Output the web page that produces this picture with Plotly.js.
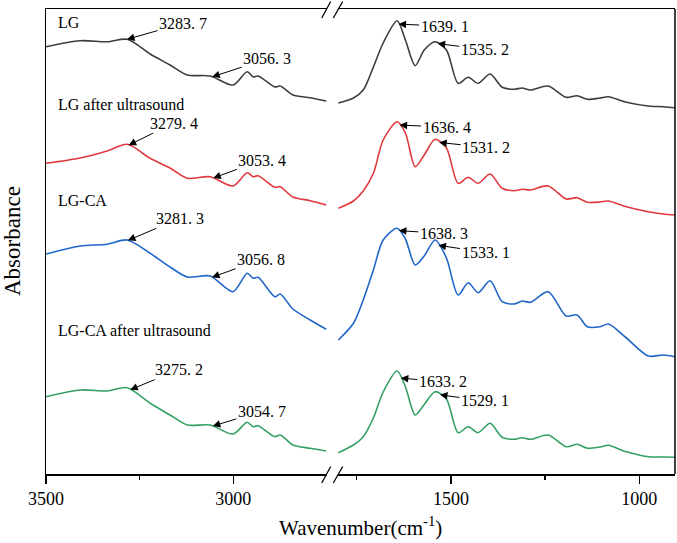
<!DOCTYPE html>
<html>
<head>
<meta charset="utf-8">
<script src="https://cdn.plot.ly/plotly-3.0.1.min.js"></script>
<style>html,body{margin:0;padding:0;background:#fff;}#chart{width:677px;height:543px;}</style>
</head>
<body>
<div id="chart"></div>
<script>
// Wavenumber grids (cm-1) for the two panels of the broken axis
const wnLeft = [3500, 3409, 3337, 3283, 3222, 3169, 3123, 3062, 3001, 2963, 2947, 2934, 2889, 2875, 2841, 2795, 2752];
const wnRight = [1799, 1759, 1733, 1706, 1680, 1643, 1621, 1595, 1571, 1542, 1512, 1481, 1454, 1428, 1396, 1364, 1332, 1311, 1289, 1242, 1194, 1165, 1138, 1104, 1082, 1037, 976, 936, 905];

// Series names
const seriesNames = ["LG", "LG after ultrasound", "LG-CA", "LG-CA after ultrasound"];

// Absorbance (offset, arbitrary units)
const lgLeft = [4.363, 4.423, 4.413, 4.437, 4.29, 4.18, 4.08, 4.07, 3.98, 4.113, 4.06, 4.07, 3.96, 3.97, 3.88, 3.853, 3.82];
const lgRight = [3.80, 3.85, 3.93, 4.16, 4.40, 4.623, 4.43, 4.173, 4.33, 4.413, 4.33, 3.997, 4.057, 3.997, 4.09, 3.957, 3.937, 3.95, 3.93, 3.97, 3.857, 3.873, 3.837, 3.85, 3.863, 3.81, 3.77, 3.763, 3.753];
const lgUsLeft = [3.197, 3.25, 3.32, 3.387, 3.247, 3.15, 3.047, 3.063, 2.97, 3.103, 3.063, 3.073, 2.957, 2.963, 2.86, 2.823, 2.78];
const lgUsRight = [2.747, 2.82, 2.92, 3.097, 3.43, 3.613, 3.50, 3.163, 3.28, 3.437, 3.35, 2.997, 3.057, 2.997, 3.09, 2.947, 2.923, 2.937, 2.93, 2.97, 2.84, 2.853, 2.807, 2.81, 2.82, 2.765, 2.713, 2.69, 2.68];
const lgcaLeft = [2.29, 2.37, 2.387, 2.43, 2.297, 2.16, 2.06, 2.07, 1.913, 2.097, 2.047, 2.057, 1.863, 1.89, 1.74, 1.63, 1.537];
const lgcaRight = [1.43, 1.597, 1.83, 2.13, 2.43, 2.547, 2.44, 2.18, 2.27, 2.43, 2.25, 1.88, 2.003, 1.903, 2.023, 1.813, 1.79, 1.82, 1.807, 1.913, 1.67, 1.68, 1.563, 1.563, 1.59, 1.46, 1.27, 1.28, 1.263];
const lgcaUsLeft = [0.863, 0.93, 0.92, 0.953, 0.797, 0.68, 0.58, 0.58, 0.49, 0.607, 0.563, 0.573, 0.463, 0.48, 0.38, 0.347, 0.32];
const lgcaUsRight = [0.303, 0.38, 0.463, 0.65, 0.91, 1.12, 0.963, 0.68, 0.785, 0.913, 0.84, 0.503, 0.563, 0.503, 0.597, 0.457, 0.437, 0.453, 0.437, 0.48, 0.363, 0.387, 0.347, 0.36, 0.377, 0.315, 0.263, 0.26, 0.257];

// Peak labels: [left OH peak, left CH peak, right amide I, right amide II]
const peaksLG = [3283.7, 3056.3, 1639.1, 1535.2];
const peaksLGUs = [3279.4, 3053.4, 1636.4, 1531.2];
const peaksLGCA = [3281.3, 3056.8, 1638.3, 1533.1];
const peaksLGCAUs = [3275.2, 3054.7, 1633.2, 1529.1];

const colors = ["#3d3d3d", "#e0393e", "#2066c8", "#34a064"];
const leftVals = [lgLeft, lgUsLeft, lgcaLeft, lgcaUsLeft];
const rightVals = [lgRight, lgUsRight, lgcaRight, lgcaUsRight];
const peaks = [peaksLG, peaksLGUs, peaksLGCA, peaksLGCAUs];

// label offsets (pixels) of each peak label from its arrow tip
const offsets = [
  [[56, -16], [55, -18], [46, 2], [47, 6]],
  [[45, -22], [49, -18], [47, 2], [47, 5]],
  [[52, -22], [49, -18], [45, 3], [47, 7]],
  [[49, -20], [49, -15], [42, 4], [45, 6]]
];
const nameY = [22, 105, 200, 331];

const FONT = "Liberation Serif, Times New Roman, serif";
const L = 46, R = 675, T = 9, B = 474;
const W = R - L, H = B - T;
const px = v => (v - L) / W;
const py = v => (B - v) / H;

function interp(xs, ys, x) {
  for (let i = 0; i < xs.length - 1; i++) {
    const a = xs[i], b = xs[i + 1];
    if ((x <= a && x >= b) || (x >= a && x <= b)) {
      const t = (x - a) / (b - a);
      return ys[i] + t * (ys[i + 1] - ys[i]);
    }
  }
  return ys[ys.length - 1];
}

const traces = [];
for (let s = 0; s < 4; s++) {
  traces.push({x: wnLeft, y: leftVals[s], xaxis: "x", yaxis: "y", mode: "lines", name: seriesNames[s],
    line: {color: colors[s], width: 1.6, shape: "spline", smoothing: 0.8}, showlegend: false, hoverinfo: "skip"});
  traces.push({x: wnRight, y: rightVals[s], xaxis: "x2", yaxis: "y", mode: "lines", name: seriesNames[s],
    line: {color: colors[s], width: 1.6, shape: "spline", smoothing: 0.8}, showlegend: false, hoverinfo: "skip"});
}

const annotations = [];
for (let s = 0; s < 4; s++) {
  annotations.push({xref: "paper", yref: "paper", x: px(56), y: py(nameY[s]), xanchor: "left", yanchor: "middle",
    text: seriesNames[s], showarrow: false, font: {family: FONT, size: 16, color: "#000"}});
  peaks[s].forEach((p, k) => {
    const left = k < 2;
    const yv = left ? interp(wnLeft, leftVals[s], p) : interp(wnRight, rightVals[s], p);
    const txt = p.toFixed(1).replace(".", ". ");
    annotations.push({xref: left ? "x" : "x2", yref: "y", x: p, y: yv, text: txt,
      showarrow: true, ax: offsets[s][k][0], ay: offsets[s][k][1],
      arrowhead: 2, arrowsize: 1.5, arrowwidth: 1, arrowcolor: "#000",
      font: {family: FONT, size: 16, color: "#000"}});
  });
}
annotations.push({xref: "paper", yref: "paper", x: 0.5, y: py(526), xanchor: "center", yanchor: "middle",
  text: "Wavenumber(cm<sup>-1</sup>)", showarrow: false, font: {family: FONT, size: 21, color: "#000"}});
annotations.push({xref: "paper", yref: "paper", x: px(12), y: py(241), xanchor: "center", yanchor: "middle",
  text: "Absorbance", textangle: -90, showarrow: false, font: {family: FONT, size: 23, color: "#000"}});

const lineStyle = {color: "#000", width: 1.5};
const shapes = [
  {type: "line", xref: "paper", yref: "paper", x0: 1, x1: 1, y0: 0, y1: 1, line: lineStyle},
  // break marks bottom
  {type: "line", xref: "paper", yref: "paper", x0: px(321.7), y0: py(483), x1: px(330.7), y1: py(466.5), line: {color: "#000", width: 1.3}},
  {type: "line", xref: "paper", yref: "paper", x0: px(333.3), y0: py(483), x1: px(342.7), y1: py(466.5), line: {color: "#000", width: 1.3}},
  // break marks top
  {type: "line", xref: "paper", yref: "paper", x0: px(321.7), y0: py(18), x1: px(330.7), y1: py(1.5), line: {color: "#000", width: 1.3}},
  {type: "line", xref: "paper", yref: "paper", x0: px(333.3), y0: py(18), x1: px(342.7), y1: py(1.5), line: {color: "#000", width: 1.3}}
];

const axCommon = {
  showline: true, linecolor: "#000", linewidth: 1.5, mirror: true,
  ticks: "outside", ticklen: 8, tickwidth: 1.3, tickcolor: "#000",
  showgrid: false, zeroline: false, anchor: "y",
  tickfont: {family: FONT, size: 18, color: "#000"}
};

const layout = {
  width: 677, height: 543,
  margin: {l: L, r: 677 - R, t: T, b: 543 - B},
  paper_bgcolor: "#fff", plot_bgcolor: "#fff",
  showlegend: false,
  xaxis: Object.assign({}, axCommon, {domain: [0, px(327)], range: [3500, 2750], tickvals: [3500, 3000],
    ticktext: ["3500", "3000"], minor: {tickvals: [3250], ticks: "outside", ticklen: 4, tickcolor: "#000", tickwidth: 1.3}}),
  xaxis2: Object.assign({}, axCommon, {domain: [px(338), 1], range: [1800, 905], tickvals: [1500, 1000],
    ticktext: ["1500", "1000"], minor: {tickvals: [1750, 1250], ticks: "outside", ticklen: 4, tickcolor: "#000", tickwidth: 1.3}}),
  yaxis: {domain: [0, 1], range: [0.09, 4.74], showline: true, linecolor: "#000", linewidth: 1.5, mirror: false,
    showticklabels: false, ticks: "", showgrid: false, zeroline: false, anchor: "x"},
  annotations: annotations,
  shapes: shapes
};

Plotly.newPlot("chart", traces, layout, {displayModeBar: false, staticPlot: true});
</script>
</body>
</html>
